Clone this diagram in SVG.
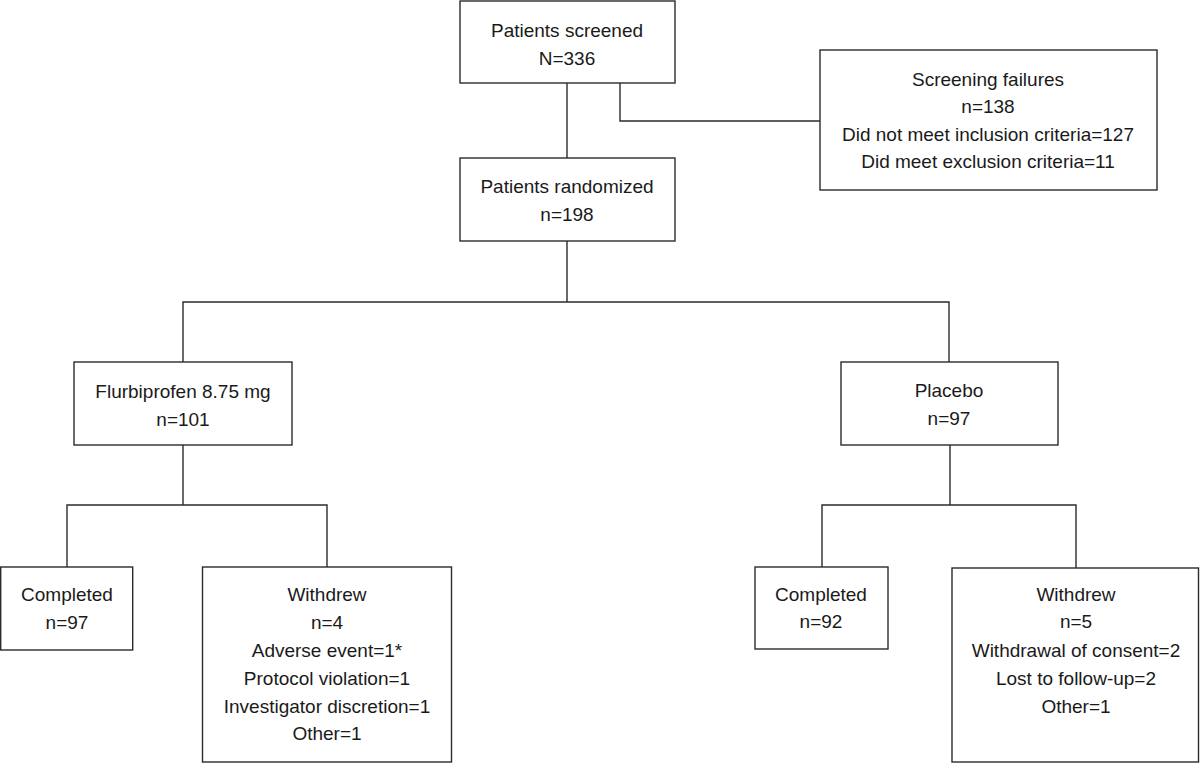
<svg xmlns="http://www.w3.org/2000/svg" width="1200" height="763" viewBox="0 0 1200 763">
<style>
.box{fill:#fff;stroke:#2b2b2b;stroke-width:1.4}
.ln{fill:none;stroke:#2b2b2b;stroke-width:1.4}
text{font-family:"Liberation Sans",Arial,sans-serif;font-size:19px;fill:#1a1a1a;text-anchor:middle}
</style>
<rect width="1200" height="763" fill="#fff"/>
<g id="connectors">
<path class="ln" d="M567,83 V158"/>
<path class="ln" d="M620,83 V121 H820"/>
<path class="ln" d="M567,241 V302 M183,362 V302 H949 V362"/>
<path class="ln" d="M183,445 V505 M67,567 V505 H327 V567"/>
<path class="ln" d="M950,445 V505 M822,567 V505 H1076 V568"/>
</g>
<g id="screened">
<rect class="box" x="460" y="1" width="215" height="82"/>
<text x="567" y="37">Patients screened</text>
<text x="567" y="65">N=336</text>
</g>
<g id="failures">
<rect class="box" x="820" y="50" width="337" height="140"/>
<text x="988" y="86">Screening failures</text>
<text x="988" y="113">n=138</text>
<text x="988" y="141">Did not meet inclusion criteria=127</text>
<text x="988" y="168">Did meet exclusion criteria=11</text>
</g>
<g id="randomized">
<rect class="box" x="460" y="158" width="215" height="83"/>
<text x="567" y="193">Patients randomized</text>
<text x="567" y="221">n=198</text>
</g>
<g id="flurbiprofen">
<rect class="box" x="74" y="362" width="218" height="83"/>
<text x="183" y="398">Flurbiprofen 8.75 mg</text>
<text x="183" y="426">n=101</text>
</g>
<g id="placebo">
<rect class="box" x="841" y="362" width="217" height="83"/>
<text x="949" y="397">Placebo</text>
<text x="949" y="425">n=97</text>
</g>
<g id="completed-f">
<rect class="box" x="0.7" y="567" width="132" height="83"/>
<text x="67" y="601">Completed</text>
<text x="67" y="629">n=97</text>
</g>
<g id="withdrew-f">
<rect class="box" x="202.5" y="567" width="249" height="195"/>
<text x="327" y="601">Withdrew</text>
<text x="327" y="629">n=4</text>
<text x="327" y="657">Adverse event=1*</text>
<text x="327" y="685">Protocol violation=1</text>
<text x="327" y="713">Investigator discretion=1</text>
<text x="327" y="740">Other=1</text>
</g>
<g id="completed-p">
<rect class="box" x="755" y="567" width="133" height="82"/>
<text x="821" y="601">Completed</text>
<text x="821" y="628">n=92</text>
</g>
<g id="withdrew-p">
<rect class="box" x="952" y="568" width="246.5" height="194"/>
<text x="1076" y="601">Withdrew</text>
<text x="1076" y="628">n=5</text>
<text x="1076" y="657">Withdrawal of consent=2</text>
<text x="1076" y="685">Lost to follow-up=2</text>
<text x="1076" y="713">Other=1</text>
</g>
</svg>
